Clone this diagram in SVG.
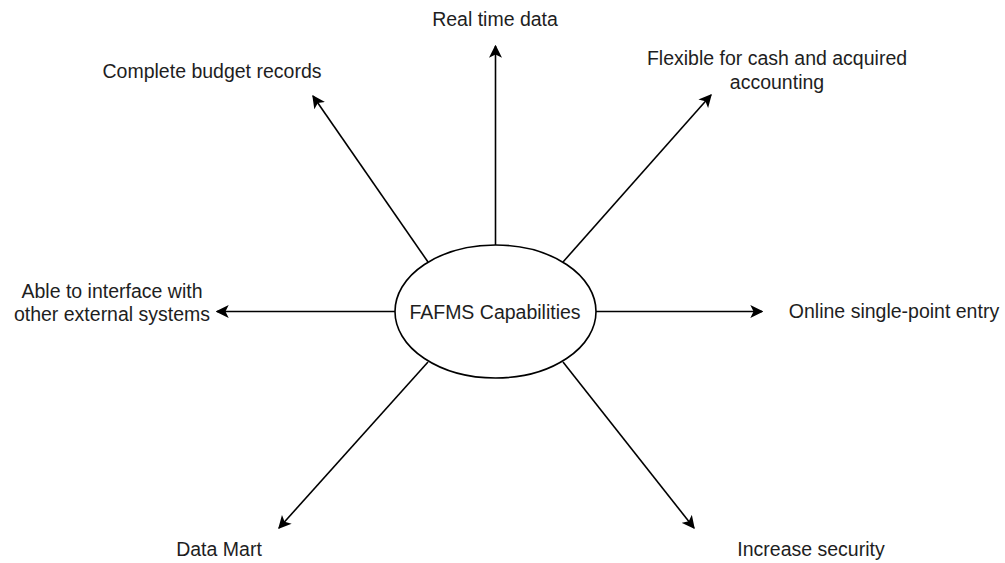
<svg xmlns="http://www.w3.org/2000/svg" width="1005" height="563" viewBox="0 0 1005 563">
  <style>
    .lbl { font-family: "Liberation Sans", Arial, Helvetica, sans-serif; font-size: 19.5px; fill: #1e1e1e; text-anchor: middle; }
    .edge { stroke: #000; stroke-width: 1.6; fill: none; marker-end: url(#arrow); }
    .hub { fill: #fff; stroke: #000; stroke-width: 1.6; }
  </style>
  <defs>
    <!-- classic filled arrowhead used on every connector -->
    <marker id="arrow" viewBox="0 0 10 10" refX="9" refY="5" markerWidth="13" markerHeight="13" markerUnits="userSpaceOnUse" orient="auto">
      <path d="M0,0 L10,5 L0,10 L2.5,5 Z" fill="#000"/>
    </marker>
  </defs>
  <rect width="1005" height="563" fill="#fff"/>

  <!-- connectors radiating from the hub -->
  <g id="connectors">
    <path class="edge" d="M495.5,245 L495.5,46"/>
    <path class="edge" d="M428,262 L313,96"/>
    <path class="edge" d="M563,262 L711,95"/>
    <path class="edge" d="M395,311.5 L217,311.5"/>
    <path class="edge" d="M596,311.5 L762,311.5"/>
    <path class="edge" d="M428,362 L279,528"/>
    <path class="edge" d="M563,362 L694,528"/>
  </g>

  <g id="hub">
    <ellipse class="hub" cx="495.5" cy="311.5" rx="100.5" ry="66.5"/>
    <text class="lbl" x="495" y="318.5">FAFMS Capabilities</text>
  </g>

  <g id="real-time-data">
    <text class="lbl" x="495" y="26">Real time data</text>
  </g>
  <g id="complete-budget-records">
    <text class="lbl" x="212" y="78">Complete budget records</text>
  </g>
  <g id="flexible-accounting">
    <text class="lbl" x="777" y="65">Flexible for cash and acquired</text>
    <text class="lbl" x="777" y="89">accounting</text>
  </g>
  <g id="external-interface">
    <text class="lbl" x="112" y="298">Able to interface with</text>
    <text class="lbl" x="112" y="321">other external systems</text>
  </g>
  <g id="online-entry">
    <text class="lbl" x="894" y="318">Online single-point entry</text>
  </g>
  <g id="data-mart">
    <text class="lbl" x="219" y="556">Data Mart</text>
  </g>
  <g id="increase-security">
    <text class="lbl" x="811" y="556">Increase security</text>
  </g>
</svg>
